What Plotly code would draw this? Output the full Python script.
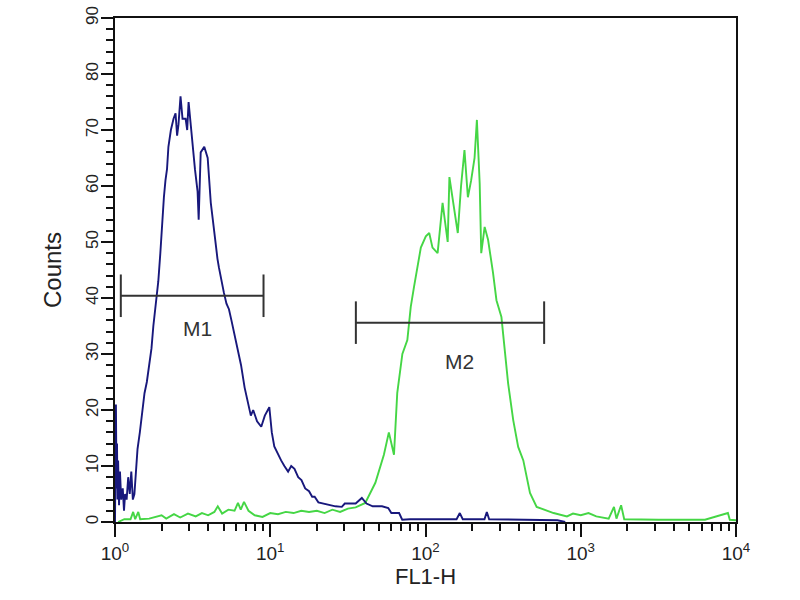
import math
import plotly.graph_objects as go

# Histogram data: log10(FL1-H intensity) and counts
blue_log = [0.000, 0.003, 0.006, 0.010, 0.013, 0.016, 0.020, 0.026, 0.032, 0.040, 0.050, 0.058,
            0.065, 0.075, 0.085, 0.095, 0.105, 0.115, 0.125, 0.135, 0.145, 0.160, 0.175, 0.190,
            0.205, 0.220, 0.235, 0.247, 0.262, 0.279, 0.292, 0.305, 0.315, 0.325, 0.335, 0.344,
            0.360, 0.377, 0.390, 0.400, 0.409, 0.422, 0.435, 0.455, 0.465, 0.474, 0.487, 0.500,
            0.515, 0.532, 0.539, 0.552, 0.575, 0.597, 0.610, 0.617, 0.630, 0.649, 0.660, 0.669,
            0.685, 0.701, 0.718, 0.734, 0.750, 0.766, 0.790, 0.812, 0.835, 0.857, 0.875, 0.890,
            0.915, 0.942, 0.965, 0.994, 1.010, 1.026, 1.050, 1.070, 1.091, 1.115, 1.135, 1.156,
            1.180, 1.201, 1.225, 1.250, 1.270, 1.286, 1.310, 1.340, 1.377, 1.420, 1.461, 1.480,
            1.550, 1.590, 1.620, 1.660, 1.720, 1.760, 1.780, 1.830, 1.850, 1.900, 2.000, 2.100,
            2.200, 2.221, 2.240, 2.380, 2.395, 2.410, 2.600, 2.850, 2.900]
blue_counts = [0, 8, 21, 6, 14, 4, 11, 3, 9, 4, 6, 2,
               5, 4, 8, 5, 9, 4, 5, 9, 13, 16, 20, 23,
               25, 28, 31, 35, 39, 43, 48, 55, 58, 61, 63, 67,
               70, 72, 73, 69, 71, 76, 72, 72, 70, 75, 71, 68,
               63, 59, 54, 66, 67, 65, 60, 57, 54, 49, 47, 45.5,
               43, 41, 39, 38, 36, 34, 31, 28, 24, 21, 19, 20,
               18, 17, 19, 20.5, 16, 13.5, 12, 11, 10, 9, 10, 9.5,
               8, 7.5, 6, 5.5, 4.5, 4.5, 3.5, 3.3, 3.0, 2.8, 2.7, 3.3,
               3.3, 4.3, 3.3, 2.8, 2.8, 2.5, 1.6, 1.6, 0.4, 0.5, 0.5, 0.5,
               0.5, 1.6, 0.5, 0.5, 1.8, 0.5, 0.4, 0.3, 0]

green_log = [0.020, 0.060, 0.100, 0.117, 0.130, 0.150, 0.162, 0.220, 0.300, 0.330, 0.380, 0.420,
             0.470, 0.520, 0.560, 0.600, 0.640, 0.662, 0.690, 0.730, 0.770, 0.792, 0.810, 0.831,
             0.860, 0.900, 0.950, 1.000, 1.050, 1.100, 1.150, 1.200, 1.250, 1.300, 1.350, 1.400,
             1.450, 1.500, 1.550, 1.580, 1.612, 1.677, 1.732, 1.764, 1.797, 1.818, 1.851, 1.883,
             1.905, 1.926, 1.948, 1.970, 2.002, 2.024, 2.045, 2.078, 2.110, 2.143, 2.154, 2.186,
             2.208, 2.229, 2.251, 2.273, 2.294, 2.316, 2.331, 2.349, 2.359, 2.381, 2.403, 2.435,
             2.457, 2.489, 2.511, 2.532, 2.565, 2.597, 2.630, 2.651, 2.673, 2.716, 2.781, 2.825,
             2.911, 2.950, 3.000, 3.050, 3.100, 3.180, 3.214, 3.230, 3.260, 3.280, 3.500, 3.800,
             3.948, 3.960, 4.000]
green_counts = [0, 0.5, 0.5, 1.8, 0.5, 1.8, 0.5, 0.6, 1.2, 0.6, 1.4, 0.8,
                1.5, 1.0, 1.6, 1.2, 1.8, 2.8, 1.5, 2.2, 2.0, 3.4, 2.2, 3.6,
                2.0, 1.2, 0.9, 1.6, 1.4, 1.8, 1.6, 2.0, 1.8, 2.0, 1.6, 2.2,
                1.8, 2.4, 2.6, 3.0, 3.4, 7, 12, 16, 12, 23, 30, 32.5,
                38.4, 42, 45.5, 49, 51, 51.6, 49, 48, 57, 50, 61.6, 55.7,
                51.6, 60, 66.4, 58, 61, 65, 71.8, 60.5, 48, 52.7, 50.4, 44.5,
                39.6, 36.6, 31, 24.8, 18.2, 13.4, 11, 8, 5.2, 2.7, 2.1, 1.6,
                1.0, 1.5, 1.2, 1.6, 1.0, 0.6, 2.7, 0.6, 3.0, 0.5, 0.4, 0.4,
                1.6, 0.4, 0.3]

# Markers: [start, end] intensity, level, label position
marker_names = ["M1", "M2"]
marker_start = [1.09, 35.6]
marker_end = [9.05, 581]
marker_level = [40.4, 35.6]
marker_cap = [3.8, 3.8]
marker_label_x = [3.41, 166]
marker_label_y = [34.6, 28.6]

x_tickvals = [1, 10, 100, 1000, 10000]
x_ticktext = ["10<sup>0</sup>", "10<sup>1</sup>", "10<sup>2</sup>", "10<sup>3</sup>", "10<sup>4</sup>"]
y_tickvals = [0, 10, 20, 30, 40, 50, 60, 70, 80, 90]

blue_x = [10 ** v for v in blue_log]
green_x = [10 ** v for v in green_log]

FONT = "Liberation Sans"

fig = go.Figure()
fig.add_trace(go.Scatter(x=green_x, y=green_counts, mode="lines",
                         line=dict(color="#45d645", width=1.9), showlegend=False))
fig.add_trace(go.Scatter(x=blue_x, y=blue_counts, mode="lines",
                         line=dict(color="#18187c", width=1.9), showlegend=False))

for name, s, e, lv, cap, lx, ly in zip(marker_names, marker_start, marker_end,
                                        marker_level, marker_cap, marker_label_x, marker_label_y):
    fig.add_trace(go.Scatter(x=[s, e], y=[lv, lv], mode="lines",
                             line=dict(color="#333333", width=2), showlegend=False))
    fig.add_trace(go.Scatter(x=[s, s], y=[lv - cap, lv + cap], mode="lines",
                             line=dict(color="#333333", width=2), showlegend=False))
    fig.add_trace(go.Scatter(x=[e, e], y=[lv - cap, lv + cap], mode="lines",
                             line=dict(color="#333333", width=2), showlegend=False))
    fig.add_annotation(x=math.log10(lx), y=ly, xref="x", yref="y", text=name, showarrow=False,
                       font=dict(family=FONT, size=21, color="#333333"))

x_minor = [m * 10 ** d for d in range(4) for m in range(2, 10)]

fig.update_layout(
    width=800, height=600,
    margin=dict(l=115, r=64, t=18, b=78),
    paper_bgcolor="white", plot_bgcolor="white",
    font=dict(family=FONT, size=18, color="#222222"),
)
fig.update_xaxes(
    type="log", range=[0, 4], tickmode="array", tickvals=x_tickvals, ticktext=x_ticktext,
    ticks="outside", ticklen=13, tickwidth=2, tickcolor="#111111",
    showline=True, linecolor="#111111", linewidth=2, mirror=True, showgrid=False,
    zeroline=False, automargin=False,
    minor=dict(tickmode="array", tickvals=x_minor, ticks="outside", ticklen=7,
               tickwidth=2, tickcolor="#111111", showgrid=False),
    title=dict(text="FL1-H", font=dict(family=FONT, size=22, color="#222222"), standoff=2),
    tickfont=dict(family=FONT, size=19, color="#222222"),
    ticklabeloverflow="allow",
)
fig.update_yaxes(
    range=[0, 90], tickmode="array", tickvals=y_tickvals, tickangle=-90,
    ticks="outside", ticklen=12, tickwidth=2, tickcolor="#111111",
    showline=True, linecolor="#111111", linewidth=2, mirror=True, showgrid=False,
    zeroline=False, automargin=False,
    minor=dict(dtick=2, ticks="outside", ticklen=7, tickwidth=2, tickcolor="#111111",
               showgrid=False),
    title=dict(text="Counts", font=dict(family=FONT, size=24, color="#222222")),
    tickfont=dict(family=FONT, size=17, color="#222222"),
    ticklabelstandoff=-4,
    ticklabeloverflow="allow",
)

fig.write_html("out.html", config={"displayModeBar": False},
               post_script="document.body.style.margin='0px';")
